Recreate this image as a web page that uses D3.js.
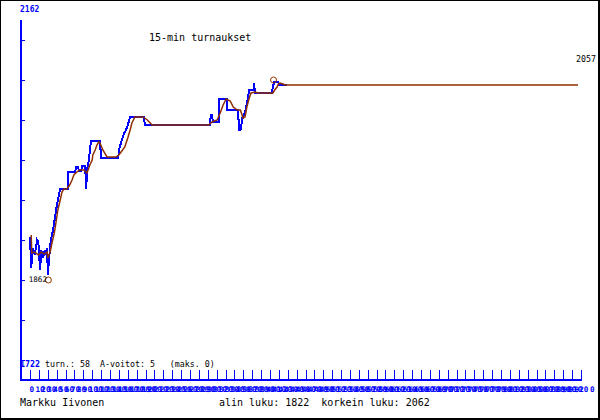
<!DOCTYPE html>
<html lang="fi">
<head>
<meta charset="utf-8">
<title>15-min turnaukset</title>
<script type="text/javascript" src="https://cdnjs.cloudflare.com/ajax/libs/d3/7.8.5/d3.min.js"></script>
<style>

body {
  margin: 0;
  background-color: #fff;
}

svg text {
  font-family: "DejaVu Sans Mono", monospace;
}

.axis line {
  stroke: #0000ff;
  shape-rendering: crispEdges;
}

.rating {
  fill: none;
  stroke: #0000ff;
  stroke-width: 2;
  shape-rendering: crispEdges;
}

.trend {
  fill: none;
  stroke: #8f2f00;
  stroke-width: 1.5;
}

.extreme {
  fill: none;
  stroke: #993300;
  stroke-width: 1;
}

.xlabel {
  fill: #0000ff;
  font-size: 7.6px;
  font-weight: bold;
}

</style>
</head>
<body>

<div id="chart"></div>

<script type="text/javascript">

// rating after each result (blue), time on the x axis
var ratingTime = [0,2,5,8,12,14,17,19,22,25,27,29,30,34,35,39,41,44,47,51,64,64,76,78,81,83,86,88,93,95,
    96,98,100,101,103,118,120,149,150,155,159,162,165,169,192,194,304,305,307,309,319,319,332,332,351,353,
    354,355,356,358,359,363,366,370,378,378,380,408,410,412,419,420,434];
var ratingValue = [1905,1874,1894,1887,1902,1900,1872,1892,1884,1892,1887,1894,1867,1895,1902,1912,1920,1932,1942,1953,
    1953,1970,1970,1975,1975,1971,1971,1976,1976,1953,1972,1977,1985,1992,2001,2001,1984,1984,1992,2002,
    2009,2012,2017,2025,2025,2017,2017,2027,2027,2020,2020,2043,2043,2032,2032,2012,2012,2017,2012,2024,
    2024,2030,2038,2052,2052,2059,2049,2049,2055,2060,2060,2057,2057];

// smoothed curve (brown)
var trendTime = [2,3,8,14,19,24,29,30,34,37,41,44,47,51,54,57,62,66,71,74,79,84,91,96,98,101,105,106,110,113,
    116,118,123,130,145,150,155,160,165,169,172,177,191,198,203,206,302,307,316,321,326,331,338,343,350,355,
    358,359,363,366,370,373,380,385,410,413,417,419,422,427,430,925];
var trendValue = [1907,1889,1890,1887,1890,1888,1890,1884,1890,1899,1909,1920,1932,1942,1950,1953,1953,1956,1962,1967,
    1970,1972,1972,1969,1972,1977,1982,1987,1992,1997,2000,1999,1992,1985,1985,1987,1991,1995,2004,2012,
    2019,2025,2025,2022,2019,2017,2017,2020,2022,2029,2037,2043,2041,2035,2032,2032,2027,2024,2025,2035,
    2044,2049,2050,2049,2049,2052,2055,2058,2059,2058,2057,2057];

var extremeTime = [31, 411];
var extremeValue = [1862, 2062];

var yTickValues = [2102, 2062, 2022, 1982, 1942, 1902, 1862, 1822, 1782];
var xTickValues = d3.range(0, 931, 15);
var xLabelValues = d3.range(0, 921, 10);

var width = 600,
    height = 420;

var x = d3.scaleLinear().domain([0, 930]).range([30, 581]);
var y = d3.scaleLinear().domain([1782, 2142]).range([360, 0]);

var svg = d3.select("#chart").append("svg")
    .attr("width", width)
    .attr("height", height);

// frame
svg.append("rect")
    .attr("width", width)
    .attr("height", height)
    .attr("fill", "#000");
svg.append("rect")
    .attr("x", 1)
    .attr("y", 1)
    .attr("width", width - 3)
    .attr("height", height - 3)
    .attr("fill", "#fff");

var axis = svg.append("g").attr("class", "axis");

axis.append("line")
    .attr("x1", 21).attr("x2", 21)
    .attr("y1", 20).attr("y2", 381)
    .attr("stroke-width", 2);

axis.append("line")
    .attr("x1", 20).attr("x2", 582)
    .attr("y1", 380).attr("y2", 380)
    .attr("stroke-width", 2);

axis.selectAll(".ytick")
    .data(yTickValues)
    .enter().append("line")
        .attr("class", "ytick")
        .attr("x1", 20).attr("x2", 25)
        .attr("y1", function(d) { return Math.round(y(d)) + 0.5; })
        .attr("y2", function(d) { return Math.round(y(d)) + 0.5; });

axis.selectAll(".xtick")
    .data(xTickValues)
    .enter().append("line")
        .attr("class", "xtick")
        .attr("x1", function(d) { return Math.round(x(d)) + 0.5; })
        .attr("x2", function(d) { return Math.round(x(d)) + 0.5; })
        .attr("y1", 370).attr("y2", 379);

svg.append("g").selectAll("text")
    .data(xLabelValues)
    .enter().append("text")
        .attr("class", "xlabel")
        .attr("x", function(d) { return x(d) - 0.5; })
        .attr("y", 392)
        .text(function(d) { return d; });

svg.append("text")
    .attr("class", "xlabel")
    .attr("x", 590)
    .attr("y", 392)
    .text("0");

var line = d3.line()
    .x(function(d) { return x(d[0]); })
    .y(function(d) { return y(d[1]); });

svg.append("path")
    .attr("class", "rating")
    .attr("d", line(d3.zip(ratingTime, ratingValue)));

svg.append("path")
    .attr("class", "trend")
    .attr("d", line(d3.zip(trendTime, trendValue)));

svg.selectAll(".extreme")
    .data(d3.zip(extremeTime, extremeValue))
    .enter().append("circle")
        .attr("class", "extreme")
        .attr("cx", function(d) { return x(d[0]); })
        .attr("cy", function(d) { return y(d[1]); })
        .attr("r", 3);

svg.append("text")
    .attr("x", 47)
    .attr("y", 282)
    .attr("text-anchor", "end")
    .style("font-size", "7.6px")
    .text(extremeValue[0]);

svg.append("text")
    .attr("x", 596)
    .attr("y", 62)
    .attr("text-anchor", "end")
    .style("font-size", "8.3px")
    .text(trendValue[trendValue.length - 1]);

svg.append("text")
    .attr("x", 20)
    .attr("y", 12)
    .attr("fill", "#0000ff")
    .style("font-size", "8px")
    .style("font-weight", "bold")
    .text("2162");

svg.append("text")
    .attr("x", 149)
    .attr("y", 41)
    .style("font-size", "10px")
    .text("15-min turnaukset");

var info = svg.append("text")
    .attr("x", 20)
    .attr("y", 367)
    .style("font-size", "8.3px")
    .style("white-space", "pre");
info.append("tspan").attr("fill", "#0000ff").style("font-weight", "bold").text("1722");
info.append("tspan").text(" turn.: 58  A-voitot: 5   (maks. 0)");

svg.append("text")
    .attr("x", 20)
    .attr("y", 406)
    .style("font-size", "10px")
    .text("Markku Iivonen");

svg.append("text")
    .attr("x", 219)
    .attr("y", 406)
    .style("font-size", "10px")
    .style("white-space", "pre")
    .text("alin luku: 1822  korkein luku: 2062");

</script>

</body>
</html>
